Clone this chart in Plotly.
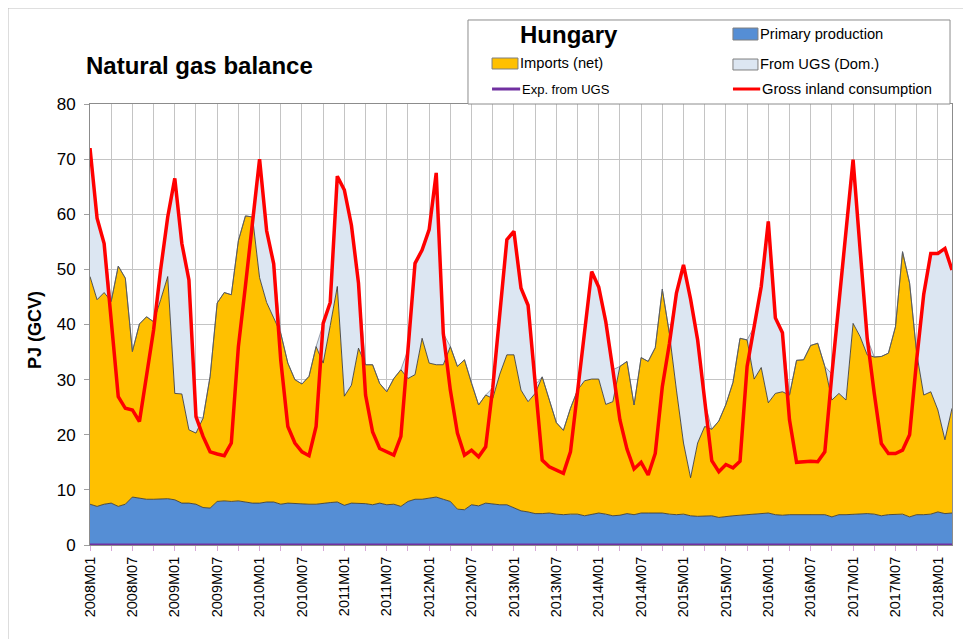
import plotly.graph_objects as go

# ---------------- data ----------------
months = [f"{y}M{m:02d}" for y in range(2008, 2019) for m in range(1, 13)][:123]

tick_labels = ["2008M01", "2008M07", "2009M01", "2009M07", "2010M01", "2010M07",
               "2011M01", "2011M07", "2012M01", "2012M07", "2013M01", "2013M07",
               "2014M01", "2014M07", "2015M01", "2015M07", "2016M01", "2016M07",
               "2017M01", "2017M07", "2018M01"]

primary_production = [
    7.4, 7.0, 7.4, 7.6, 7.0, 7.4, 8.7, 8.5, 8.3, 8.3, 8.3, 8.4, 8.2, 7.6, 7.6, 7.4, 6.8, 6.7, 7.9, 8.0, 7.9,
    8.0, 7.8, 7.6, 7.6, 7.8, 7.8, 7.4, 7.6, 7.5, 7.4, 7.4, 7.4, 7.6, 7.7, 7.8, 7.2, 7.6, 7.6, 7.5, 7.3, 7.6,
    7.3, 7.4, 7.0, 7.9, 8.3, 8.3, 8.5, 8.7, 8.3, 7.9, 6.5, 6.4, 7.3, 7.1, 7.6, 7.4, 7.3, 7.3, 6.7, 6.2,
    6.0, 5.7, 5.7, 5.8, 5.6, 5.5, 5.6, 5.6, 5.3, 5.5, 5.8, 5.6, 5.3, 5.4, 5.7, 5.5, 5.8, 5.8, 5.8, 5.8, 5.6,
    5.5, 5.6, 5.3, 5.2, 5.3, 5.3, 5.0, 5.2, 5.3, 5.4, 5.5, 5.6, 5.7, 5.8, 5.5, 5.4, 5.5, 5.5, 5.6, 5.6,
    5.6, 5.5, 5.1, 5.5, 5.5, 5.6, 5.6, 5.7, 5.6, 5.3, 5.5, 5.6, 5.6, 5.1, 5.5, 5.5, 5.6, 6.0, 5.7, 5.8,
]

imports_net = [
    41.3, 37.5, 38.4, 36.6, 43.6, 41.0, 26.4, 31.6, 33.1, 32.2, 36.2, 40.3, 19.3, 19.8, 13.3, 12.9, 16.2, 23.9, 36.0, 37.8, 37.5,
    47.2, 51.9, 51.9, 40.9, 36.2, 33.4, 31.0, 25.4, 22.5, 21.8, 23.2, 28.6, 25.4, 32.1, 39.1, 19.8, 21.4, 28.1, 25.2, 25.4, 21.7,
    20.5, 22.8, 24.8, 22.3, 22.6, 29.2, 24.5, 24.0, 24.4, 28.1, 25.9, 27.2, 22.0, 18.3, 19.6, 19.2, 23.7, 27.2, 27.8, 21.9,
    20.0, 21.8, 24.8, 20.7, 16.6, 15.3, 19.2, 22.5, 24.5, 24.6, 24.3, 19.9, 20.7, 27.0, 27.6, 19.9, 28.2, 27.5, 30.0, 40.6, 32.8,
    22.6, 12.9, 6.9, 13.3, 16.2, 15.7, 17.5, 20.3, 24.2, 32.1, 31.7, 24.5, 26.5, 20.0, 22.0, 22.4, 21.7, 28.0, 28.0, 30.6,
    31.0, 26.9, 21.2, 22.0, 20.8, 34.6, 32.2, 28.8, 28.5, 28.9, 29.3, 34.0, 47.6, 42.4, 29.3, 21.7, 22.2, 18.5, 13.4, 19.0,
]

from_ugs_dom = [
    23.3, 14.8, 8.9, 0, 0, 0, 0, 0, 0, 0, 5.5, 10.8, 39.0, 27.3, 27.2, 3.0, 0, 0, 0, 0, 0,
    0, 0, 0, 21.5, 13.0, 9.8, 0, 0, 0, 0, 0, 0, 7.2, 4.2, 20.0, 37.4, 29.0, 11.8, 0, 0, 0,
    0, 0, 0, 5.2, 20.2, 16.0, 24.2, 34.8, 5.7, 0, 0, 0, 0, 0, 0, 1.9, 11.0, 20.9, 22.4, 18.5,
    17.5, 1.5, 0, 0, 0, 0, 0, 0, 9.7, 19.5, 16.7, 15.0, 5.8, 0, 0, 0, 0, 0, 0, 0, 0,
    17.6, 32.3, 32.4, 18.7, 4.5, 0, 0, 0, 0, 0, 0, 9.5, 14.7, 32.9, 13.7, 10.7, 0, 0, 0, 0,
    0, 0, 4.7, 16.9, 31.7, 29.7, 15.7, 3.0, 0, 0, 0, 0, 0, 0, 0, 18.3, 25.1, 28.4, 34.7, 25.1,
]

exp_from_ugs = [
    0, 0, 0, 0, 0, 0, 0, 0, 0, 0, 0, 0, 0, 0, 0, 0, 0, 0, 0, 0, 0,
    0, 0, 0, 0, 0, 0, 0, 0, 0, 0, 0, 0, 0, 0, 0, 0, 0, 0, 0, 0, 0,
    0, 0, 0, 0, 0, 0, 0, 0, 0, 0, 0, 0, 0, 0, 0, 0, 0, 0, 0, 0,
    0, 0, 0, 0, 0, 0, 0, 0, 0, 0, 0, 0, 0, 0, 0, 0, 0, 0, 0, 0, 0,
    0, 0, 0, 0, 0, 0, 0, 0, 0, 0, 0, 0, 0, 0, 0, 0, 0, 0, 0, 0,
    0, 0, 0, 0, 0, 0, 0, 0, 0, 0, 0, 0, 0, 0, 0, 0, 0, 0, 0, 0,
]

gross_inland_consumption = [
    72.0, 59.3, 54.7, 41.0, 26.9, 24.8, 24.5, 22.4, 30.5, 39.0, 50.0, 59.5, 66.5, 54.7, 48.1, 23.3, 19.7, 16.9, 16.5, 16.2, 18.5,
    36.0, 47.0, 58.0, 70.0, 57.0, 51.0, 33.5, 21.5, 18.5, 16.9, 16.2, 21.5, 40.2, 44.0, 66.9, 64.4, 58.0, 47.5, 27.2, 20.5, 17.5,
    16.9, 16.3, 19.7, 35.4, 51.1, 53.5, 57.2, 67.5, 38.4, 28.1, 20.3, 16.3, 17.2, 16.0, 17.8, 28.5, 42.0, 55.4, 56.9, 46.6,
    43.5, 29.0, 15.4, 14.2, 13.6, 13.0, 16.9, 28.0, 39.5, 49.6, 46.8, 40.5, 31.8, 22.7, 17.4, 13.8, 15.0, 12.7, 16.6, 28.7, 36.5,
    45.7, 50.8, 44.6, 37.2, 26.0, 15.3, 13.3, 14.6, 14.0, 15.2, 32.4, 39.6, 46.9, 58.7, 41.2, 38.5, 22.7, 15.0, 15.1, 15.2,
    15.1, 16.9, 31.0, 44.4, 58.0, 69.9, 53.5, 37.5, 27.5, 18.4, 16.6, 16.6, 17.2, 20.0, 33.6, 45.5, 52.9, 52.9, 53.8, 49.9,
]

# ---------------- styling ----------------
FONT = "Arial, Liberation Sans, sans-serif"
C_PROD = "#558ED5"
C_IMP = "#FFC000"
C_UGS = "#DCE6F2"
C_GIC = "#FF0000"
C_EXP = "#7030A0"
EDGE = "rgba(55,55,55,0.85)"
GRID = "#C4C4C4"

fig = go.Figure()
fig.add_trace(go.Scatter(x=months, y=primary_production, name="Primary production",
                         stackgroup="bal", mode="lines", line=dict(color=EDGE, width=1),
                         fillcolor=C_PROD))
fig.add_trace(go.Scatter(x=months, y=imports_net, name="Imports (net)",
                         stackgroup="bal", mode="lines", line=dict(color=EDGE, width=1),
                         fillcolor=C_IMP))
fig.add_trace(go.Scatter(x=months, y=from_ugs_dom, name="From UGS (Dom.)",
                         stackgroup="bal", mode="lines", line=dict(color="rgba(90,100,120,0.6)", width=1),
                         fillcolor=C_UGS))
fig.add_trace(go.Scatter(x=months, y=gross_inland_consumption, name="Gross inland consumption",
                         mode="lines", line=dict(color=C_GIC, width=3.5)))
fig.add_trace(go.Scatter(x=months, y=exp_from_ugs, name="Exp. from UGS",
                         mode="lines", line=dict(color=C_EXP, width=3)))

tickvals = months[::3]
ticktext = [m if m in tick_labels else "" for m in tickvals]

# page body adds an 8px offset, so the figure is drawn 8px smaller and margins shifted
fig.update_layout(
    width=963, height=631, autosize=False,
    margin=dict(l=82, r=19, t=96, b=94),
    paper_bgcolor="white", plot_bgcolor="white",
    showlegend=False,
    font=dict(family=FONT, color="black"),
    xaxis=dict(type="category", range=[0, 122], tickmode="array",
               tickvals=tickvals, ticktext=ticktext, tickangle=-90,
               tickfont=dict(size=14.5, family=FONT, color="black"),
               showgrid=True, gridcolor=GRID, gridwidth=1,
               ticks="outside", ticklen=5, tickcolor="#D8A8D8",
               showline=True, linecolor="#8C8C8C", linewidth=1, mirror=True,
               zeroline=False),
    yaxis=dict(range=[0, 80], tick0=0, dtick=10,
               tickfont=dict(size=17, family=FONT, color="black"),
               ticklabelstandoff=5,
               showgrid=True, gridcolor=GRID, gridwidth=1,
               ticks="outside", ticklen=5, tickcolor="#A0A0A0",
               showline=True, linecolor="#8C8C8C", linewidth=1, mirror=True,
               zeroline=False),
)

shapes = []
annotations = []

# outer chart frame
shapes.append(dict(type="rect", xref="paper", yref="paper",
                   x0=-0.0951, x1=1.0139, y0=-0.30, y1=1.2177,
                   line=dict(color="#BEBEBE", width=1), fillcolor="rgba(0,0,0,0)", layer="below"))

# legend box
shapes.append(dict(type="rect", xref="paper", yref="paper",
                   x0=0.4385, x1=0.9977, y0=1.0, y1=1.1905,
                   line=dict(color="#8C8C8C", width=1), fillcolor="white", layer="above"))

def swatch(x0, x1, y0, y1, color):
    shapes.append(dict(type="rect", xref="paper", yref="paper", x0=x0, x1=x1, y0=y0, y1=y1,
                       line=dict(color="#7F7F7F", width=1), fillcolor=color, layer="above"))

def legline(x0, x1, y, color):
    shapes.append(dict(type="line", xref="paper", yref="paper", x0=x0, x1=x1, y0=y, y1=y,
                       line=dict(color=color, width=3), layer="above"))

def text(x, y, s, size, bold=False, xanchor="left", angle=0):
    annotations.append(dict(xref="paper", yref="paper", x=x, y=y, text=f"<b>{s}</b>" if bold else s,
                            showarrow=False, xanchor=xanchor, yanchor="middle", textangle=angle,
                            font=dict(family=FONT, size=size, color="black")))

# legend contents
text(0.5557, 1.1587, "Hungary", 24, bold=True, xanchor="center")
swatch(0.4664, 0.4965, 1.0794, 1.1043, C_IMP)
text(0.4965, 1.0930, "Imports (net)", 14.7)
legline(0.4664, 0.4990, 1.0340, C_EXP)
text(0.4990, 1.0340, "Exp. from UGS", 13)
swatch(0.7459, 0.7749, 1.1451, 1.1723, C_PROD)
text(0.7750, 1.1587, "Primary production", 14.7)
swatch(0.7459, 0.7749, 1.0771, 1.1020, C_UGS)
text(0.7750, 1.0907, "From UGS (Dom.)", 14.7)
legline(0.7459, 0.7775, 1.0340, C_GIC)
text(0.7770, 1.0340, "Gross inland consumption", 14.7)

# chart title and y-axis title
text(-0.0070, 1.0884, "Natural gas balance", 24, bold=True)
text(-0.0638, 0.4875, "PJ (GCV)", 18, bold=True, xanchor="center", angle=-90)

fig.update_layout(shapes=shapes, annotations=annotations)

fig.write_html("out.html")
